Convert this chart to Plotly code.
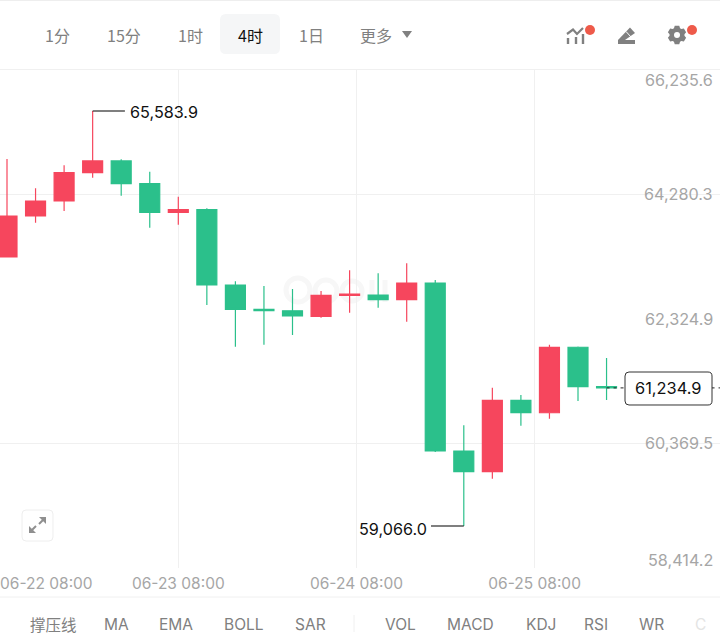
import math

import plotly.graph_objects as go

W, H = 720, 643

# Four-hour BTC-style candles, oldest first
candle_index = list(range(22))
opens = [63291, 63935, 64170, 64615, 64799, 64442, 63993, 64034, 62851, 62469, 62447, 62359,
         62689, 62694, 62620, 62882, 60244, 59919, 61040, 60845, 61873, 61254]
highs = [64830, 64370, 64731, 65583.9, 64825, 64631, 64238, 64056, 62909, 62835, 62788, 62757,
         63082, 63035, 63192, 62930, 60647, 61238, 61123, 61913, 61885, 61705]
lows = [63291, 63830, 64013, 64536, 64254, 63751, 63798, 62537, 61882, 61913, 62066, 62337,
        62416, 62495, 62275, 60228, 59066.0, 59809, 60641, 60751, 61029, 61045]
closes = [63935, 64170, 64615, 64799, 64442, 63993, 64034, 62851, 62469, 62447, 62364, 62689,
          62710, 62620, 62882, 60244, 59919, 61040, 60845, 61873, 61254, 61234.9]

price_ticks = [66235.6, 64280.3, 62324.9, 60369.5, 58414.2]
price_labels = ["66,235.6", "64,280.3", "62,324.9", "60,369.5", "58,414.2"]
price_label_shift = [-10, 0, 0, 0, 8]
price_grid = [64280.3, 60369.5]
date_grid = [6.0, 12.24, 18.48]
date_labels = ["06-23 08:00", "06-24 08:00", "06-25 08:00"]
first_date_label = "06-22 08:00"
top_tabs = [("1分", 57), ("15分", 124), ("1时", 190), ("4时", 250), ("1日", 311), ("更多", 376)]
bottom_tabs = [("撑压线", 53), ("MA", 116), ("EMA", 176), ("BOLL", 244), ("SAR", 310),
               ("VOL", 400), ("MACD", 470), ("KDJ", 541), ("RSI", 596), ("WR", 651)]
last_price = 61234.9
high_price = 65583.9
low_price = 59066.0

UP = "#f6465d"
DOWN = "#2bc08b"
GREY = "#808080"
LABEL = "#a6a6a6"
RULE = "#f0f0f0"
MARK = "#f7f7f7"
LATIN = "Inter, 'Noto Sans CJK SC', sans-serif"
CJK = "'Noto Sans CJK SC', Inter, sans-serif"


def px(x):
    return x / W


def py(y):
    return 1 - y / H


def poly(points, close=True):
    body = " L ".join(f"{px(x):.5f},{py(y):.5f}" for x, y in points)
    return "M " + body + (" Z" if close else "")


def rounded(x0, y0, x1, y1, r):
    a, b = r / W, r / H
    l, t, rt, bt = px(x0), py(y0), px(x1), py(y1)
    return (f"M {l+a:.5f},{t:.5f} L {rt-a:.5f},{t:.5f} Q {rt:.5f},{t:.5f} {rt:.5f},{t-b:.5f} "
            f"L {rt:.5f},{bt+b:.5f} Q {rt:.5f},{bt:.5f} {rt-a:.5f},{bt:.5f} "
            f"L {l+a:.5f},{bt:.5f} Q {l:.5f},{bt:.5f} {l:.5f},{bt+b:.5f} "
            f"L {l:.5f},{t-b:.5f} Q {l:.5f},{t:.5f} {l+a:.5f},{t:.5f} Z")


def cog(cx, cy, outer, inner):
    # Six teeth, each one spanning a short arc at the outer radius
    pts = []
    for k in range(6):
        mid = math.radians(60 * k - 90)
        for offset, r in ((-0.42, inner), (-0.24, outer), (0.24, outer), (0.42, inner)):
            pts.append((cx + r * math.cos(mid + offset), cy + r * math.sin(mid + offset)))
    return poly(pts)


def paper_shape(path=None, fill=None, line=None, width=0, layer="above"):
    return dict(type="path", xref="paper", yref="paper", path=path, fillcolor=fill or "rgba(0,0,0,0)",
                line=dict(color=line or "rgba(0,0,0,0)", width=width), layer=layer)


def paper_line(x0, y0, x1, y1, color, width=1, layer="below"):
    return dict(type="line", xref="paper", yref="paper", x0=px(x0), y0=py(y0), x1=px(x1), y1=py(y1),
                line=dict(color=color, width=width), layer=layer)


def dot(cx, cy, r, color, line=None, width=0, layer="above"):
    return dict(type="circle", xref="paper", yref="paper", x0=px(cx - r), x1=px(cx + r),
                y0=py(cy + r), y1=py(cy - r), fillcolor=color,
                line=dict(width=width, color=line or "rgba(0,0,0,0)"), layer=layer)


fig = go.Figure(go.Candlestick(
    x=candle_index, open=opens, high=highs, low=lows, close=closes,
    increasing=dict(line=dict(color=UP, width=1.2), fillcolor=UP),
    decreasing=dict(line=dict(color=DOWN, width=1.2), fillcolor=DOWN),
    whiskerwidth=0, hoverinfo="skip", showlegend=False,
))

shapes = [
    paper_line(0, 0.5, W, 0.5, "#eeeeee", 1),
    paper_line(0, 69.5, W, 69.5, RULE, 1),
    paper_line(0, 597, W, 597, RULE, 1),
    paper_line(354, 615, 354, 632, RULE, 1),
    paper_shape(rounded(220, 14, 280, 54, 6), fill="#f5f6f7", layer="below"),
    paper_shape(poly([(402, 31), (412, 31), (407, 38)]), fill=GREY),
    # faint brand mark behind the candles
    dot(298, 290, 12, "rgba(0,0,0,0)", MARK, 5, "below"),
    dot(326, 291, 11, "rgba(0,0,0,0)", MARK, 5, "below"),
    dot(352, 291, 10, "rgba(0,0,0,0)", MARK, 5, "below"),
    paper_line(372, 280, 372, 302, MARK, 5),
    paper_line(385, 280, 385, 302, MARK, 5),
    # chart-type icon
    paper_shape(poly([(567, 34), (573, 29.5), (577, 34), (583, 28)], close=False), line=GREY, width=2.2),
    paper_line(568, 38, 568, 44, GREY, 2.4),
    paper_line(576, 37, 576, 44, GREY, 2.4),
    paper_line(583, 34, 583, 44, GREY, 2.4),
    dot(590, 30, 5, "#ee5a4a"),
    # drawing-tool icon
    paper_shape(poly([(618, 40), (630, 27.5), (635, 33), (625, 40)]), fill=GREY),
    paper_shape(poly([(618, 40), (635, 40), (635, 44), (618, 44)]), fill=GREY),
    paper_line(626, 31.5, 631, 37, "#ffffff", 1, "above"),
    # settings icon
    paper_shape(cog(677, 35, 9.5, 7.5), fill=GREY),
    dot(677, 35, 3, "#ffffff"),
    dot(692, 30, 5, "#ee5a4a"),
    # expand button
    paper_shape(rounded(22, 510, 53, 541, 4), fill="#ffffff", line="#eeeeee", width=1),
    paper_shape(poly([(39, 517), (46, 517), (46, 524)]), fill="#8f8f8f"),
    paper_shape(poly([(29, 526), (36, 533), (29, 533)]), fill="#8f8f8f"),
    paper_line(44, 519, 39, 524, "#8f8f8f", 2, "above"),
    paper_line(31, 531, 36, 526, "#8f8f8f", 2, "above"),
    # high and low leader lines
    dict(type="line", xref="x", yref="y", x0=3, x1=4.13, y0=high_price, y1=high_price,
         line=dict(color="#000000", width=1.2), layer="above"),
    dict(type="line", xref="x", yref="y", x0=16, x1=14.85, y0=low_price, y1=low_price,
         line=dict(color="#000000", width=1.2), layer="above"),
    # last price marker
    dict(type="line", xref="x", yref="y", x0=21, x1=25, y0=last_price, y1=last_price,
         line=dict(color="#222222", width=1, dash="3px,4px"), layer="above"),
    paper_shape(rounded(625, 372, 712, 405, 4), fill="#ffffff", line="#333333", width=1),
]

annotations = []


def text(x, y, s, color, size=15, family=LATIN, xanchor="center"):
    annotations.append(dict(x=px(x), y=py(y), xref="paper", yref="paper", text=s, showarrow=False,
                            xanchor=xanchor, yanchor="middle", font=dict(color=color, size=size, family=family)))


for label, cx in top_tabs:
    text(cx, 35, label, "#111111" if label == "4时" else GREY, 16, CJK)
for label, cx in bottom_tabs:
    text(cx, 624, label, GREY, 15.5, CJK if label == "撑压线" else LATIN)
text(700, 624, "C", "#e4e4e4", 15.5)

for value, label, shift in zip(price_ticks, price_labels, price_label_shift):
    annotations.append(dict(x=px(715), y=value, xref="paper", yref="y", text=label, showarrow=False,
                            xanchor="right", yanchor="middle", yshift=shift,
                            font=dict(color=LABEL, size=16.2, family=LATIN)))

annotations.append(dict(x=0, y=py(583), xref="paper", yref="paper", text=first_date_label, showarrow=False,
                        xanchor="left", xshift=-2, yanchor="middle", font=dict(color=LABEL, size=15.5, family=LATIN)))
annotations.append(dict(x=3, y=high_price, xref="x", yref="y", text="65,583.9", showarrow=False, xanchor="left",
                        xshift=35, yanchor="middle", yshift=-1, font=dict(color="#111111", size=16.2, family=LATIN)))
annotations.append(dict(x=16, y=low_price, xref="x", yref="y", text="59,066.0", showarrow=False, xanchor="right",
                        xshift=-35, yanchor="middle", yshift=-3, font=dict(color="#111111", size=16.2, family=LATIN)))
annotations.append(dict(x=px(668), y=last_price, xref="paper", yref="y", text="61,234.9", showarrow=False,
                        xanchor="center", yanchor="middle", font=dict(color="#111111", size=16.4, family=LATIN)))

# Candle centres sit 28.55px apart with the first one 7px from the left edge
x_left = -7 / 28.55
x_right = (W - 7) / 28.55

fig.update_layout(
    width=W, height=H, margin=dict(l=0, r=0, t=0, b=0), autosize=False,
    paper_bgcolor="#ffffff", plot_bgcolor="#ffffff", boxgap=0,
    shapes=shapes, annotations=annotations, dragmode=False,
    xaxis=dict(domain=[0, 1], range=[x_left, x_right], tickmode="array", tickvals=date_grid, ticktext=date_labels,
               showgrid=True, gridcolor=RULE, gridwidth=1, zeroline=False, showline=False, ticks="outside",
               ticklen=2, tickcolor="rgba(0,0,0,0)", rangeslider=dict(visible=False),
               tickfont=dict(color=LABEL, size=15.5, family=LATIN), fixedrange=True),
    yaxis=dict(domain=[py(567.5), py(69.5)], range=[price_ticks[-1], price_ticks[0]], tickmode="array",
               tickvals=price_grid, showticklabels=False, showgrid=True, gridcolor=RULE, gridwidth=1,
               zeroline=False, showline=False, ticks="", fixedrange=True),
)

fig.write_html("out.html", config=dict(displayModeBar=False))
